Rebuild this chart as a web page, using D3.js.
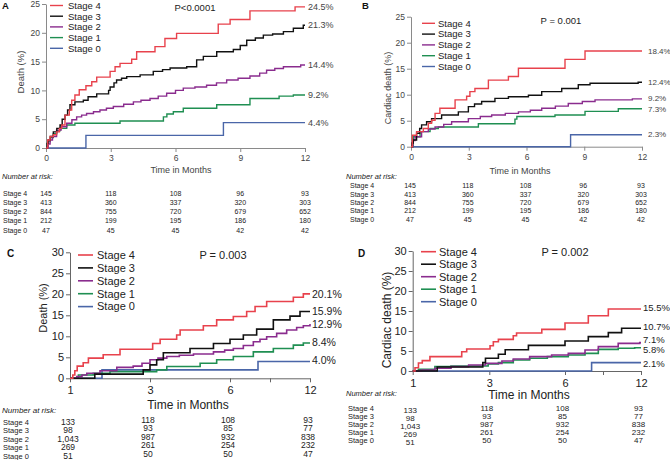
<!DOCTYPE html>
<html><head><meta charset="utf-8">
<script src="https://cdn.jsdelivr.net/npm/d3@7"></script>
<style>
body{margin:0;background:#fff}
svg{display:block}
text{font-family:"Liberation Sans",Arial,Helvetica,sans-serif}
</style>
</head><body>
<svg id="chart" width="670" height="460"></svg>
<script>
// ---------------- DATA ----------------
const stages = ["Stage 4", "Stage 3", "Stage 2", "Stage 1", "Stage 0"];

const ticksAB = [0, 3, 6, 9, 12];
const ticksCD = [1, 3, 6, 12];
const yTicksAB = [0, 5, 10, 15, 20, 25];
const yTicksCD = [0, 5, 10, 15, 20, 25, 30];

// Panel A: Death (%), months 0-12
const A_stage4 = [[0,0],[0.08,1.4],[0.19,2.0],[0.34,2.3],[0.49,2.8],[0.62,3.4],[0.73,4.0],[0.88,5.7],[1.08,6.6],[1.19,8.3],[1.34,9.2],[1.54,10.1],[1.85,10.8],[2.12,11.5],[2.35,12.3],[2.97,13.3],[3.2,14.1],[3.43,14.7],[3.97,15.4],[4.2,16.7],[5.05,17.6],[5.51,19.0],[6.05,19.9],[7.98,21.5],[8.53,22.3],[9.45,23.8],[11.54,24.5],[12,24.5]];
const A_stage3 = [[0,0],[0.05,0.8],[0.1,1.4],[0.2,2.0],[0.34,2.8],[0.5,3.4],[0.65,4.0],[0.75,5.0],[0.88,5.7],[1.0,6.6],[1.11,7.5],[1.34,8.0],[1.73,8.3],[1.95,8.9],[2.35,9.4],[2.9,10.0],[2.97,10.6],[3.15,11.3],[3.27,11.8],[3.5,12.1],[3.74,12.4],[4.36,12.7],[4.97,13.3],[5.4,13.6],[5.75,13.9],[6.52,14.1],[6.98,15.3],[7.29,15.9],[7.91,16.7],[8.68,17.1],[9.0,17.8],[9.3,18.7],[9.7,19.1],[10.07,19.6],[10.5,19.8],[11.0,20.2],[11.46,20.8],[11.92,21.3],[12,21.3]];
const A_stage2 = [[0,0],[0.1,0.7],[0.19,1.4],[0.3,2.0],[0.49,3.1],[0.7,3.7],[0.96,4.3],[1.2,4.9],[1.42,5.4],[1.65,5.7],[1.88,6.0],[2.2,6.3],[2.5,6.6],[2.8,6.9],[3.12,7.2],[3.6,7.6],[4.05,8.0],[4.4,8.3],[4.82,8.6],[5.2,9.0],[5.59,9.5],[6.0,10.0],[6.36,10.4],[6.9,10.6],[7.44,10.9],[7.9,11.3],[8.37,11.8],[8.9,12.1],[9.45,12.5],[9.9,13.0],[10.22,13.5],[10.6,13.8],[11.0,14.1],[11.8,14.4],[12,14.4]];
const A_stage1 = [[0,0],[0.1,1.1],[0.2,1.8],[0.34,2.5],[0.5,3.0],[0.65,3.4],[0.96,4.0],[1.34,4.3],[3.43,4.7],[5.44,5.4],[5.6,5.9],[5.9,6.3],[6.36,6.9],[7.91,7.5],[9.45,8.6],[10.8,9.0],[11.46,9.2],[12,9.2]];
const A_stage0 = [[0,0],[1.85,2.2],[8.22,4.4],[12,4.4]];

// Panel B: Cardiac death (%), months 0-12
const B_stage4 = [[0,0],[0.07,2.2],[0.29,2.9],[0.64,3.5],[0.9,4.5],[1.07,5.1],[1.25,6.4],[1.5,7.4],[2.29,9.0],[2.89,9.7],[3.06,10.6],[3.32,11.2],[4.02,12.8],[5.06,13.5],[5.58,15.1],[8.0,16.8],[9.04,18.4],[12,18.4]];
const B_stage3 = [[0,0],[0.05,0.7],[0.12,1.3],[0.29,2.6],[0.45,3.5],[0.55,4.2],[0.81,4.8],[1.07,5.4],[1.59,6.1],[2.46,6.7],[2.98,7.7],[3.3,8.2],[3.67,8.7],[4.36,9.3],[5.06,9.6],[6.1,9.9],[6.79,10.6],[7.83,11.2],[8.69,11.9],[9.3,12.2],[11.8,12.4],[12,12.4]];
const B_stage2 = [[0,0],[0.1,1.2],[0.21,1.9],[0.55,2.9],[0.9,3.4],[1.25,3.8],[1.7,4.3],[2.11,4.8],[2.98,5.4],[3.6,5.8],[4.19,6.1],[4.9,6.4],[5.58,6.7],[6.2,7.0],[6.79,7.4],[7.5,7.8],[8.17,8.3],[8.9,8.7],[9.56,9.0],[11.5,9.2],[12,9.2]];
const B_stage1 = [[0,0],[0.12,1.9],[0.47,2.9],[0.99,3.5],[1.42,3.8],[3.5,4.4],[5.4,5.3],[5.5,5.8],[7.48,6.1],[9.04,6.8],[10.77,7.3],[12,7.3]];
const B_stage0 = [[0,0],[8.29,2.3],[12,2.3]];

// Panel C: Death (%), months 1-12
const C_stage4 = [[1,0],[1.07,0.8],[1.12,1.8],[1.18,2.9],[1.33,3.7],[1.46,4.8],[1.83,5.6],[2.25,6.9],[3.1,8.3],[3.38,9.3],[4.0,10.3],[4.13,11.5],[5.0,12.5],[5.5,13.9],[6.25,14.7],[7.25,15.9],[7.88,17.1],[8.75,18.3],[10.75,19.3],[11.5,20.1],[12,20.1]];
const C_stage3 = [[1,0],[1.62,1.0],[2.83,2.0],[3.0,3.2],[3.25,4.4],[3.5,6.1],[4.5,7.1],[5.38,8.3],[6.0,9.3],[7.0,10.3],[8.0,11.7],[9.25,13.9],[10.5,14.8],[11.25,15.9],[12,15.9]];
const C_stage2 = [[1,0],[1.17,0.4],[1.3,0.8],[1.42,1.2],[1.75,1.8],[2.17,2.6],[2.58,2.9],[2.8,3.6],[3.0,4.4],[3.3,4.8],[3.63,5.2],[4.1,5.5],[4.63,5.8],[5.38,6.3],[5.8,6.7],[6.25,7.1],[7.0,7.8],[7.75,8.7],[8.25,9.3],[8.75,9.9],[9.5,10.7],[10.25,11.5],[11.0,12.1],[11.5,12.5],[12,12.9]];
const C_stage1 = [[1,0],[1.21,0.8],[1.58,1.2],[2.0,1.6],[3.25,2.0],[3.63,2.8],[4.88,3.6],[5.5,4.4],[6.25,5.2],[7.75,6.3],[9.25,7.1],[10.75,7.9],[11.5,8.4],[12,8.4]];
const C_stage0 = [[1,0],[1.8,2.0],[8.1,4.0],[12,4.0]];

// Panel D: Cardiac death (%), months 1-12
const D_stage4 = [[1,0],[1.06,0.8],[1.15,2.0],[1.25,2.6],[1.45,3.6],[2.28,4.8],[2.41,5.5],[3.03,6.3],[3.16,7.3],[3.36,7.9],[3.95,8.8],[4.08,9.5],[5.08,10.4],[6.0,12.0],[7.84,13.8],[9.42,15.5],[12,15.5]];
const D_stage3 = [[1,0],[1.64,1.0],[2.83,2.1],[2.9,3.2],[3.36,4.2],[3.63,5.3],[4.55,6.4],[6.0,7.5],[7.84,8.6],[9.42,9.6],[10.47,10.7],[12,10.7]];
const D_stage2 = [[1,0],[1.23,0.25],[1.58,0.67],[2.0,1.1],[2.46,1.5],[2.9,1.9],[3.5,2.5],[3.95,3.0],[4.6,3.6],[5.47,4.0],[6.26,4.4],[7.58,5.25],[8.63,6.1],[10.2,6.9],[11.9,7.1],[12,7.1]];
const D_stage1 = [[1,0],[1.15,0.4],[1.58,1.1],[2.0,1.25],[2.97,1.75],[3.36,2.1],[3.95,2.75],[4.6,3.2],[5.3,3.6],[6.26,4.0],[7.58,4.4],[8.63,5.4],[10.2,5.7],[11.5,5.8],[12,5.8]];
const D_stage0 = [[1,0],[8.1,2.1],[12,2.1]];

// Numbers at risk (rows: Stage 4..0)
const riskA = [[145,118,108,96,93],[413,360,337,320,303],[844,755,720,679,652],[212,199,195,186,180],[47,45,45,42,42]];
const riskB = [[145,118,108,96,93],[413,360,337,320,303],[844,755,720,679,652],[212,199,195,186,180],[47,45,45,42,42]];
const riskC = [[133,118,108,93],[98,93,85,77],[1043,987,932,838],[269,261,254,232],[51,50,50,47]];
const riskD = [[133,118,108,93],[98,93,85,77],[1043,987,932,838],[269,261,254,232],[51,50,50,47]];

const pValues = ["P<0.0001", "P = 0.001", "P = 0.003", "P = 0.002"];
const yTitles = ["Death (%)", "Cardiac death (%)", "Death (%)", "Cardiac death (%)"];
const panelLetters = ["A", "B", "C", "D"];

// ---------------- DRAW ----------------
const colors = ["#e8424c", "#111111", "#8a2c8e", "#1f8f52", "#4a66a8"];
const svg = d3.select("#chart");
svg.append("rect").attr("width",670).attr("height",460).attr("fill","#fff");

function drawPanel(o) {
  const g = svg.append("g");
  const x = d3.scaleLinear().domain(o.xDomain).range(o.xRange);
  const y = d3.scaleLinear().domain(o.yDomain).range(o.yRange);
  const x0 = o.xRange[0], x1 = o.xRange[o.xRange.length-1];

  // axes
  const ya = g.append("g").attr("transform", `translate(${x0},0)`)
    .call(d3.axisLeft(y).tickValues(o.yTicks).tickSize(4).tickSizeOuter(0).tickPadding(2));
  const xa = g.append("g").attr("transform", `translate(0,${y(0)})`)
    .call(d3.axisBottom(x).tickValues(o.xTickMarks).tickSize(4).tickSizeOuter(0)
      .tickFormat(d => o.xTicks.includes(d) ? d : "").tickPadding(o.xPad));
  [ya, xa].forEach(a => {
    a.select(".domain").attr("stroke", o.axisColor).attr("stroke-width", 1);
    a.selectAll(".tick line").attr("stroke", o.axisColor);
    a.selectAll("text").attr("fill", o.textColor).style("font-size", o.tickFont + "px")
      .style("font-family", '"Liberation Sans",Arial,sans-serif');
  });

  // curves
  const line = d3.line().x(d => x(d[0])).y(d => y(d[1])).curve(d3.curveStepAfter);
  o.series.slice().reverse().forEach((s, i) => {
    const idx = o.series.length - 1 - i;
    g.append("path").datum(s).attr("d", line).attr("fill", "none")
      .attr("stroke", colors[idx]).attr("stroke-width", o.lineW);
  });

  // end labels
  o.series.forEach((s, i) => {
    const last = s[s.length-1][1];
    g.append("text").attr("x", x1 + o.endDx).attr("y", y(last) + (o.endNudge[i]||0))
      .attr("dy", "0.35em").attr("fill", o.textColor).style("font-size", o.endFont + "px")
      .text(last.toFixed(1) + "%");
  });

  // legend
  stages.forEach((st, i) => {
    const yy = o.legY + i * o.legStep;
    g.append("line").attr("x1", o.legX).attr("x2", o.legX + o.legLen).attr("y1", yy).attr("y2", yy)
      .attr("stroke", colors[i]).attr("stroke-width", o.lineW);
    g.append("text").attr("x", o.legX + o.legLen + o.legGap).attr("y", yy).attr("dy", "0.35em")
      .attr("fill", "#222").style("font-size", o.legFont + "px").text(st);
  });

  // p value
  g.append("text").attr("x", o.pX).attr("y", o.pY).attr("dy", "0.35em").attr("text-anchor", "middle")
    .attr("fill", "#222").style("font-size", o.pFont + "px").text(o.p);

  // panel letter
  g.append("text").attr("x", o.letX).attr("y", o.letY).attr("dy", "0.35em")
    .attr("fill", "#111").style("font-size", o.letFont + "px").style("font-weight", "bold").text(o.letter);

  // y title
  g.append("text").attr("transform", `translate(${o.ytX},${o.ytY}) rotate(-90)`).attr("dy", "0.35em")
    .attr("text-anchor", "middle").attr("fill", o.textColor).style("font-size", o.ytFont + "px").text(o.yTitle);

  // x title
  g.append("text").attr("x", o.xtX).attr("y", o.xtY).attr("dy", "0.35em").attr("text-anchor", "middle")
    .attr("fill", o.textColor).style("font-size", o.xtFont + "px").text("Time in Months");

  // number at risk
  g.append("text").attr("x", o.nrX).attr("y", o.nrY).attr("dy", "0.35em")
    .attr("fill", "#222").style("font-size", o.nrFont + "px").style("font-style", "italic").text("Number at risk:");
  const fmt = d3.format(o.riskFmt);
  stages.forEach((st, i) => {
    g.append("text").attr("x", o.rlX).attr("y", o.rowY[i]).attr("dy", "0.35em")
      .attr("fill", "#222").style("font-size", o.rlFont + "px").text(st);
    o.risk[i].forEach((v, j) => {
      g.append("text").attr("x", x(o.xTicks[j]) + o.rvDx).attr("y", o.rowY[i] + o.rvDy[j])
        .attr("dy", "0.35em").attr("text-anchor", "middle").attr("fill", "#222")
        .style("font-size", o.rvFont + "px").text(fmt(v));
    });
  });
}

const common = { axisColor: "#8a8a8a" };

drawPanel({
  ...common, textColor: "#444", letter: panelLetters[0], p: pValues[0], yTitle: yTitles[0],
  xDomain: [0, 12], xRange: [46, 305], yDomain: [0, 25], yRange: [148, 4],
  xTicks: ticksAB, xTickMarks: ticksAB, yTicks: yTicksAB, tickFont: 8.5, xPad: 3,
  series: [A_stage4, A_stage3, A_stage2, A_stage1, A_stage0], lineW: 1.4,
  endDx: 3, endFont: 9, endNudge: [0,0,0,0,0],
  legX: 50, legLen: 13, legGap: 5, legY: 5.5, legStep: 10.7, legFont: 9.5,
  pX: 195, pY: 7.5, pFont: 9.5, letX: 2, letY: 6, letFont: 9.5,
  ytX: 21, ytY: 72, ytFont: 9.5, xtX: 181, xtY: 170, xtFont: 9,
  nrX: 2, nrY: 176, nrFont: 7.5, rlX: 3, rlFont: 7, rvFont: 7, rvDx: 0,
  rowY: [193.3, 202.7, 212, 221, 230.3], rvDy: [0,0,0,0,0], risk: riskA, riskFmt: "d"
});

drawPanel({
  ...common, textColor: "#444", letter: panelLetters[1], p: pValues[1], yTitle: yTitles[1],
  xDomain: [0, 12], xRange: [411, 642], yDomain: [0, 25], yRange: [146.7, 16.7],
  xTicks: ticksAB, xTickMarks: ticksAB, yTicks: yTicksAB, tickFont: 8.5, xPad: 3,
  series: [B_stage4, B_stage3, B_stage2, B_stage1, B_stage0], lineW: 1.4,
  endDx: 6, endFont: 8, endNudge: [0,0,-1,0,-1],
  legX: 422, legLen: 13, legGap: 3, legY: 23.3, legStep: 10.8, legFont: 9.5,
  pX: 561, pY: 20.7, pFont: 9.5, letX: 362, letY: 5.5, letFont: 9.5,
  ytX: 388, ytY: 88, ytFont: 9, xtX: 520, xtY: 170.5, xtFont: 9,
  nrX: 346, nrY: 176, nrFont: 7.5, rlX: 350, rlFont: 7, rvFont: 7, rvDx: -1,
  rowY: [186, 194.5, 203, 211, 220], rvDy: [0,0,0,0,0], risk: riskB, riskFmt: "d"
});

drawPanel({
  ...common, axisColor: "#666", textColor: "#222", letter: panelLetters[2], p: pValues[2], yTitle: yTitles[2],
  xDomain: ticksCD, xRange: [70, 150, 230, 310], yDomain: [0, 30], yRange: [378.3, 252.3],
  xTicks: ticksCD, xTickMarks: [1, 3, 6, 9, 12], yTicks: yTicksCD, tickFont: 11, xPad: 4,
  series: [C_stage4, C_stage3, C_stage2, C_stage1, C_stage0], lineW: 1.6,
  endDx: 2, endFont: 10.5, endNudge: [0,0,0,-1,-1],
  legX: 78, legLen: 15, legGap: 4, legY: 255, legStep: 12.9, legFont: 11,
  pX: 223, pY: 255, pFont: 11, letX: 7, letY: 253.5, letFont: 10,
  ytX: 43, ytY: 308, ytFont: 11, xtX: 188, xtY: 405, xtFont: 12,
  nrX: 2, nrY: 410, nrFont: 8, rlX: 3, rlFont: 7.5, rvFont: 8.5, rvDx: -2,
  rowY: [422, 430.5, 439, 447.5, 456], rvDy: [0,-2,-2,-2], risk: riskC, riskFmt: ","
});

drawPanel({
  ...common, axisColor: "#666", textColor: "#222", letter: panelLetters[3], p: pValues[3], yTitle: yTitles[3],
  xDomain: ticksCD, xRange: [412.7, 489.3, 565, 641], yDomain: [0, 30], yRange: [371, 251],
  xTicks: ticksCD, xTickMarks: [1, 3, 6, 9, 12], yTicks: yTicksCD, tickFont: 11, xPad: 4,
  series: [D_stage4, D_stage3, D_stage2, D_stage1, D_stage0], lineW: 1.6,
  endDx: 2, endFont: 9.5, endNudge: [-1,-2,-3,2,1],
  legX: 421, legLen: 15, legGap: 3, legY: 251.7, legStep: 12.5, legFont: 11,
  pX: 565, pY: 251.7, pFont: 11, letX: 358, letY: 253.5, letFont: 10,
  ytX: 387, ytY: 320, ytFont: 12, xtX: 529, xtY: 395, xtFont: 12,
  nrX: 346, nrY: 393, nrFont: 7.5, rlX: 348, rlFont: 7.5, rvFont: 8, rvDx: -2.5,
  rowY: [408.5, 416.5, 424.5, 432.5, 440.5], rvDy: [2,0,0,0], risk: riskD, riskFmt: ","
});
</script>
</body></html>
